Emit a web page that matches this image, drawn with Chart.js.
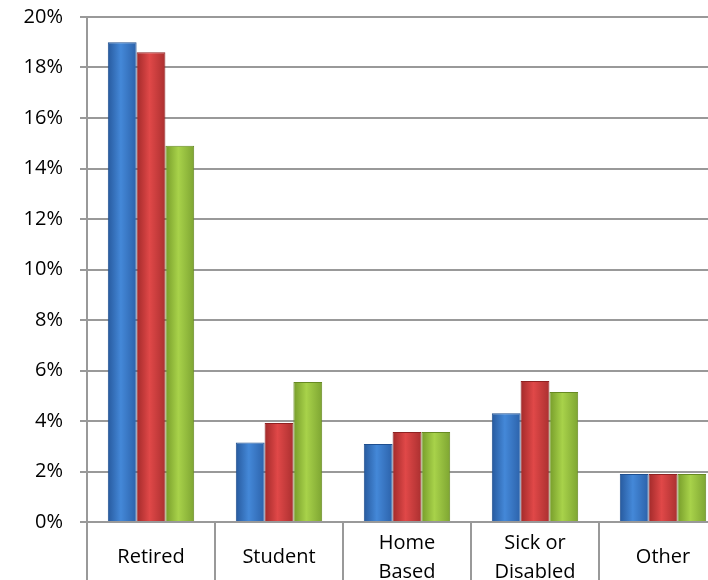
<!DOCTYPE html>
<html>
<head>
<meta charset="utf-8">
<script src="https://cdn.jsdelivr.net/npm/chart.js@4/dist/chart.umd.min.js"></script>
<style>
  html, body { margin: 0; padding: 0; background: #fff; overflow: hidden; }
  #wrap { width: 730px; height: 580px; }
</style>
</head>
<body>
<div id="wrap"><canvas id="myChart" width="730" height="580"></canvas></div>
<script>
let categories = ['Retired', 'Student', ['Home', 'Based'], ['Sick or', 'Disabled'], 'Other']
let blueValues = [19.0, 3.15, 3.09, 4.31, 1.9]
let redValues = [18.6, 3.92, 3.56, 5.58, 1.9]
let greenValues = [14.9, 5.54, 3.56, 5.15, 1.9]
let yTicks = [0, 2, 4, 6, 8, 10, 12, 14, 16, 18, 20]

// edge / centre colours for the glossy bars
let shades = [
    ['#275a9e', '#4488d8', '#2c62aa'],
    ['#a22a2a', '#e04848', '#ab3030'],
    ['#769c2a', '#a8d24a', '#7ea532']
]

let glossPlugin = {
    id: 'gloss',
    beforeDatasetsDraw(chart) {
        let ctx = chart.ctx
        chart.data.datasets.forEach((ds, i) => {
            let meta = chart.getDatasetMeta(i)
            meta.data.forEach(bar => {
                let left = bar.x - bar.width / 2
                let g = ctx.createLinearGradient(left, 0, left + bar.width, 0)
                g.addColorStop(0, shades[i][0])
                g.addColorStop(0.45, shades[i][1])
                g.addColorStop(1, shades[i][2])
                bar.options.backgroundColor = g
            })
        })
    }
}

let gridGray = '#999999'

let chart = new Chart('myChart', {
    type: 'bar',
    data: {
        labels: categories,
        datasets: [
            { data: blueValues, borderColor: '#1f4f8f', borderWidth: 1 },
            { data: redValues, borderColor: '#8f2222', borderWidth: 1 },
            { data: greenValues, borderColor: '#678a22', borderWidth: 1 }
        ]
    },
    plugins: [glossPlugin],
    options: {
        responsive: false,
        animation: false,
        layout: { padding: { top: 17, right: 3, left: 0, bottom: 0 } },
        datasets: {
            bar: {
                categoryPercentage: 0.675,
                barPercentage: 1,
                // scriptable so every bar gets its own options object
                backgroundColor: c => shades[c.datasetIndex][1]
            }
        },
        plugins: {
            legend: { display: false },
            tooltip: { enabled: false },
            title: { display: false }
        },
        scales: {
            x: {
                afterFit(scale) { scale.height = 58 },
                grid: {
                    offset: true,
                    drawOnChartArea: false,
                    tickLength: 58,
                    color: gridGray,
                    lineWidth: 2
                },
                border: { color: gridGray, width: 2 },
                ticks: {
                    color: '#000',
                    padding: -37,
                    crossAlign: 'center',
                    font: { family: 'Open Sans', size: 20, lineHeight: 1.45 }
                }
            },
            y: {
                min: 0,
                max: 20,
                afterFit(scale) {
                    scale.width = 87
                    scale.paddingTop = 0
                    scale.paddingBottom = 0
                },
                afterBuildTicks(scale) { scale.ticks = yTicks.map(v => ({ value: v })) },
                grid: { color: gridGray, lineWidth: 2, tickLength: 7 },
                border: { color: gridGray, width: 2 },
                ticks: {
                    color: '#000',
                    padding: 17,
                    font: { family: 'Open Sans', size: 20 },
                    callback: v => v + '%'
                }
            }
        }
    }
})
</script>
</body>
</html>
